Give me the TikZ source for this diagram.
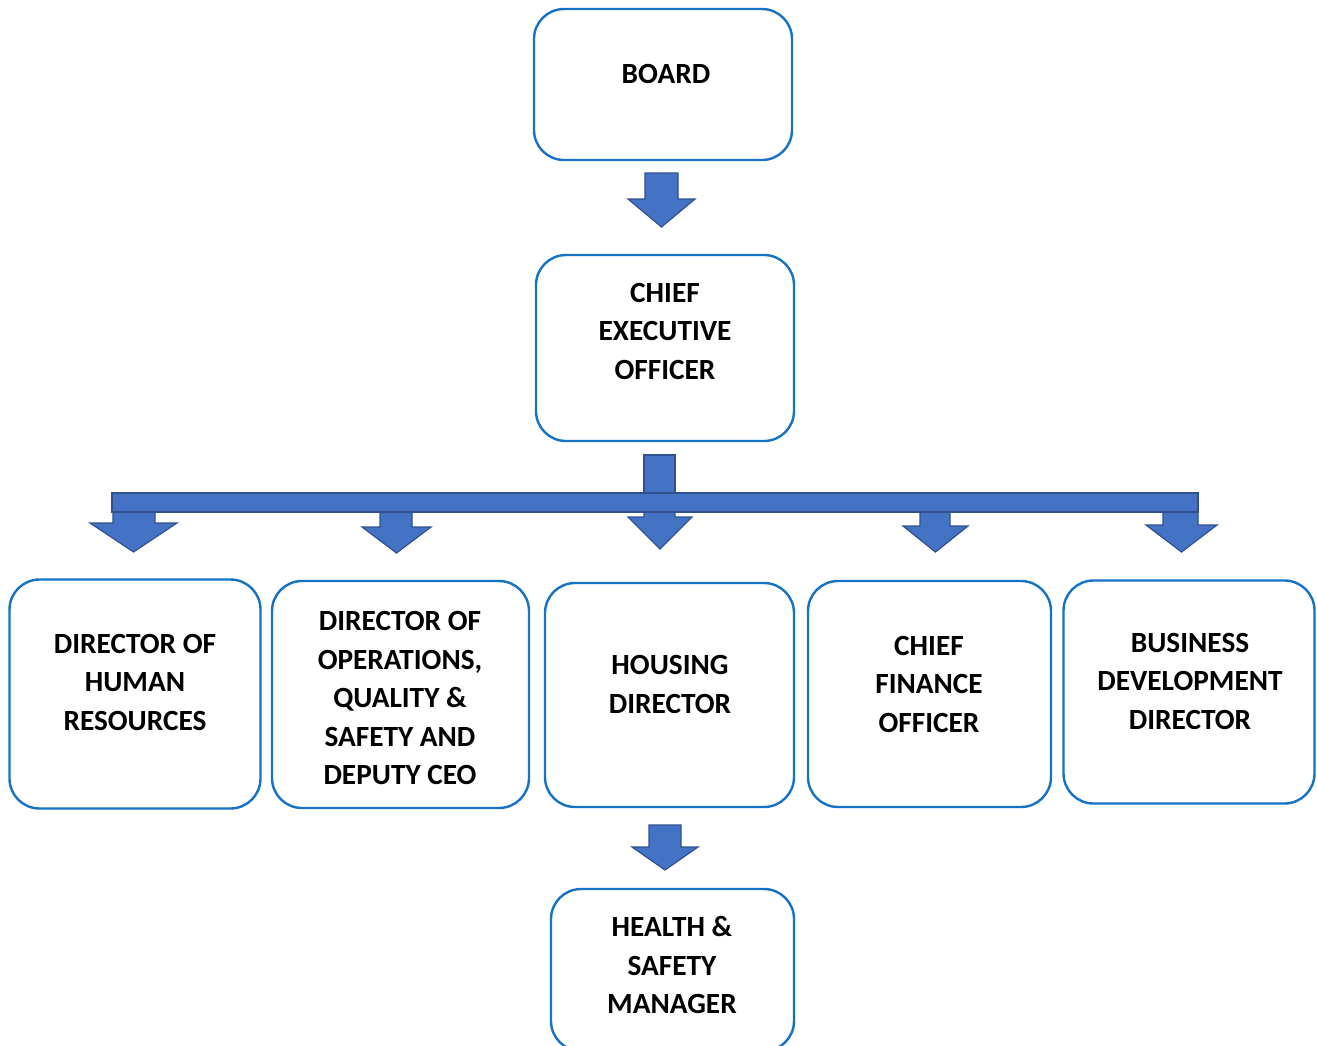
\documentclass[tikz,border=0pt]{standalone}
\usepackage{fontspec}
\setmainfont{Carlito}
\definecolor{boxblue}{RGB}{22,114,196}
\definecolor{arrfill}{RGB}{68,114,196}
\definecolor{arrline}{RGB}{47,82,143}
\tikzset{
  orgbox/.style={draw=boxblue, line width=2.4pt, rounded corners=30pt, fill=white, inner sep=0pt},
  orgtext/.style={align=center, font=\bfseries\fontsize{29.3}{38.5}\selectfont, text=black, inner sep=0pt},
  blk/.style={fill=arrfill, draw=arrline, line width=1.2pt, line join=miter}
}
% #1 shaft left, #2 shaft right, #3 shaft top, #4 head top, #5 head left, #6 head right, #7 tip y
\newcommand{\blkarrow}[7]{%
  \draw[blk] (#1,#3) -- (#2,#3) -- (#2,#4) -- (#6,#4) -- ({(#5+#6)/2},#7) -- (#5,#4) -- (#1,#4) -- cycle;}
\begin{document}
\begin{tikzpicture}[x=1pt,y=-1pt]
\useasboundingbox (0,0) rectangle (1317,1045);
\begin{scope}
\clip (0,0) rectangle (1317,1045);
% boxes
\node[orgbox, minimum width=258pt, minimum height=151pt] (board) at (663,84.5) {};
\node[orgbox, minimum width=258pt, minimum height=186pt] (ceo) at (665,348) {};
\node[orgbox, minimum width=251pt, minimum height=229pt] (hr) at (135,694) {};
\node[orgbox, minimum width=257pt, minimum height=227pt] (ops) at (400.5,694.5) {};
\node[orgbox, minimum width=249pt, minimum height=224pt] (housing) at (669.5,695) {};
\node[orgbox, minimum width=243pt, minimum height=226pt] (cfo) at (929.5,694) {};
\node[orgbox, minimum width=251pt, minimum height=223pt] (bdd) at (1189,692) {};
\node[orgbox, minimum width=243pt, minimum height=162pt] (hs) at (672.5,970) {};
\end{scope}
% texts
\node[orgtext] (boardt) at (666,74) {BOARD};
\node[orgtext] (ceot) at (665,331) {CHIEF\\EXECUTIVE\\OFFICER};
\node[orgtext] (hrt) at (135,682) {DIRECTOR OF\\HUMAN\\RESOURCES};
\node[orgtext] (opst) at (400,698) {DIRECTOR OF\\OPERATIONS,\\QUALITY \&\\SAFETY AND\\DEPUTY CEO};
\node[orgtext] (housingt) at (670,684.5) {HOUSING\\DIRECTOR};
\node[orgtext] (cfot) at (929,684) {CHIEF\\FINANCE\\OFFICER};
\node[orgtext] (bddt) at (1190,681) {BUSINESS\\DEVELOPMENT\\DIRECTOR};
\node[orgtext] (hst) at (672,965) {HEALTH \&\\SAFETY\\MANAGER};
% block arrows
\blkarrow{645}{678}{173}{199}{628}{695}{227}
\draw[blk] (644,455) rectangle (675,500);
\blkarrow{113}{155}{505}{523}{90}{177}{552}
\blkarrow{380}{412}{505}{527}{362}{431}{553}
\blkarrow{644}{675}{505}{517}{628}{692}{549}
\blkarrow{920}{950}{505}{526}{903}{968}{552}
\blkarrow{1163}{1198}{505}{525}{1146}{1217}{552}
\draw[blk] (112,493) rectangle (1198,512);
\blkarrow{649}{681}{825}{847}{632}{698}{870}
\end{tikzpicture}
\end{document}
